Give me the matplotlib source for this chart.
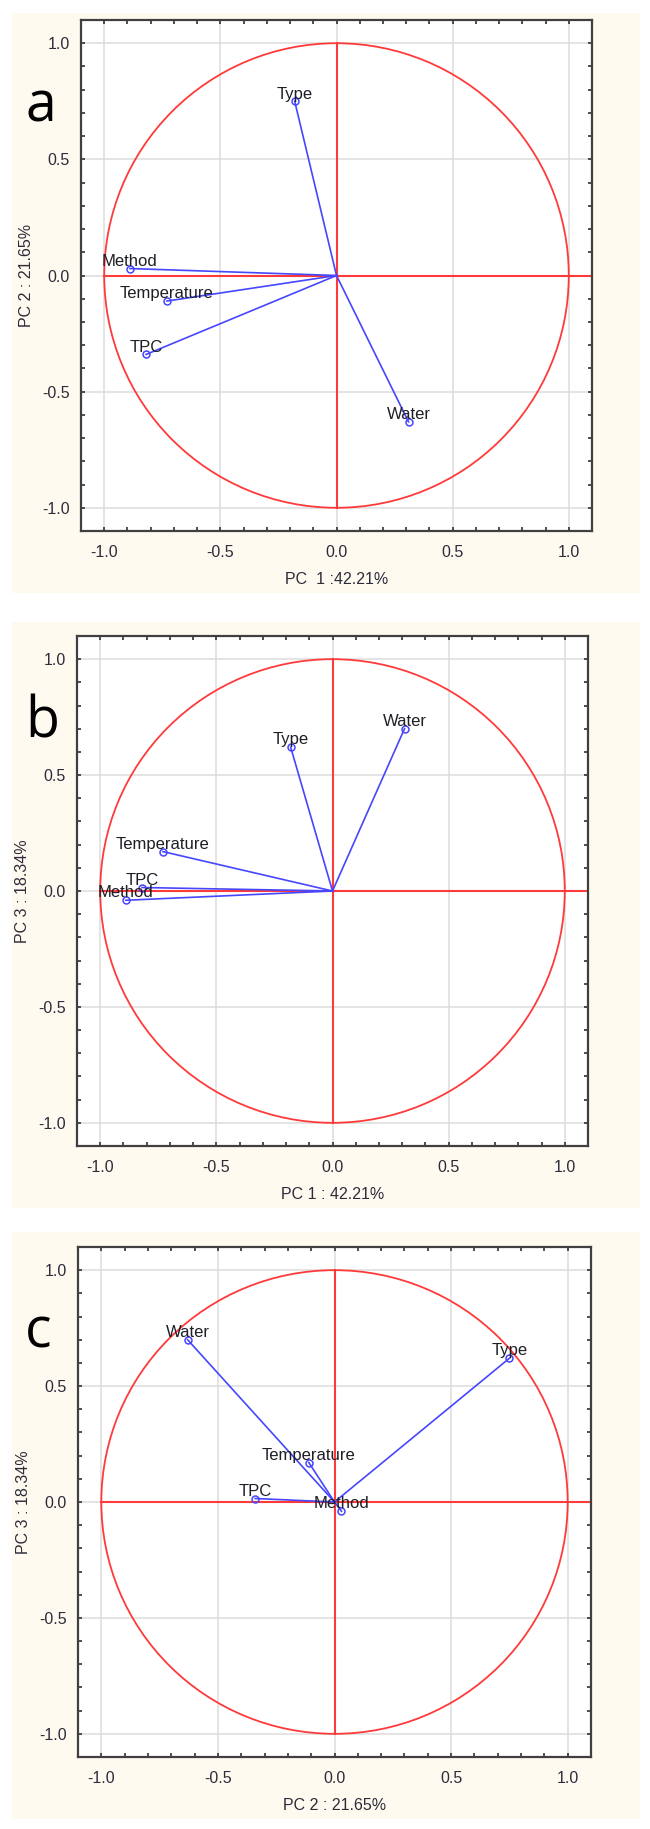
import matplotlib
matplotlib.use("Agg")
import matplotlib.pyplot as plt
from matplotlib.patches import Circle, Rectangle
from matplotlib.ticker import MultipleLocator, FormatStrFormatter

plt.rcParams['font.family'] = ['Liberation Sans', 'DejaVu Sans']
plt.rcParams['axes.unicode_minus'] = False

# loadings
variables = ['Method', 'Temperature', 'TPC', 'Water', 'Type']
pc1 = [-0.89, -0.73, -0.82, 0.31, -0.18]
pc2 = [0.03, -0.11, -0.34, -0.63, 0.75]
pc3 = [-0.04, 0.17, 0.015, 0.70, 0.62]

panels = [
    ('a', pc1, pc2, 'PC  1 :42.21%', 'PC 2 : 21.65%'),
    ('b', pc1, pc3, 'PC 1 : 42.21%', 'PC 3 : 18.34%'),
    ('c', pc2, pc3, 'PC 2 : 21.65%', 'PC 3 : 18.34%'),
]

W, H = 650, 1829
fig = plt.figure(figsize=(W / 100, H / 100), dpi=100)

# pixel boxes: cream background (x0, y0, x1, y1) and axes (left, top, right, bottom)
cream_boxes = [(12, 13, 640, 593), (12, 622, 640, 1208), (12, 1232, 640, 1819)]
ax_boxes = [(81, 20, 592, 531), (77, 636, 588, 1146), (78, 1247, 591, 1757)]

text_col = '#2c2c3a'
blue = '#4646ff'
red = '#ff3a3a'

for (letter, xs, ys, xlab, ylab), cb, ab in zip(panels, cream_boxes, ax_boxes):
    x0, y0, x1, y1 = cb
    fig.patches.append(Rectangle((x0 / W, 1 - y1 / H), (x1 - x0) / W, (y1 - y0) / H,
                                 transform=fig.transFigure, facecolor='#fffaf0',
                                 edgecolor='none', zorder=-10))
    l, t, r, b = ab
    ax = fig.add_axes([l / W, 1 - b / H, (r - l) / W, (b - t) / H])
    ax.set_zorder(1)
    ax.set_facecolor('white')
    ax.set_xlim(-1.1, 1.1)
    ax.set_ylim(-1.1, 1.1)

    ax.xaxis.set_major_locator(MultipleLocator(0.5))
    ax.yaxis.set_major_locator(MultipleLocator(0.5))
    ax.xaxis.set_minor_locator(MultipleLocator(0.1))
    ax.yaxis.set_minor_locator(MultipleLocator(0.1))
    ax.xaxis.set_major_formatter(FormatStrFormatter('%.1f'))
    ax.yaxis.set_major_formatter(FormatStrFormatter('%.1f'))
    ax.tick_params(which='both', direction='in', top=True, right=True,
                   color='#404040', width=1.3, length=3)
    ax.tick_params(which='major', labelsize=11.5, labelcolor=text_col)
    ax.tick_params(axis='x', which='major', pad=10)
    ax.tick_params(axis='y', which='major', pad=8)
    for s in ax.spines.values():
        s.set_color('#404040')
        s.set_linewidth(1.6)
    ax.grid(True, which='major', color='#dcdcdc', linewidth=1.1)
    ax.set_axisbelow(True)

    # unit circle and red axes
    ax.add_patch(Circle((0, 0), 1.0, fill=False, edgecolor=red, linewidth=1.3, zorder=2))
    ax.plot([-1.0, 1.1], [0, 0], color=red, linewidth=1.5, zorder=2)
    ax.plot([0, 0], [-1.0, 1.0], color=red, linewidth=1.5, zorder=2)

    for name, x, y in zip(variables, xs, ys):
        ax.plot([0, x], [0, y], color=blue, linewidth=1.2, zorder=3)
        ax.plot(x, y, marker='o', markersize=5, markerfacecolor='none',
                markeredgecolor=blue, markeredgewidth=1.1, zorder=4)
        ax.annotate(name, (x, y), xytext=(0, 2), textcoords='offset points',
                    ha='center', va='baseline', fontsize=12, color='#1e1e26', zorder=5)

    ax.set_xlabel(xlab, fontsize=11.5, color=text_col, labelpad=9)
    ax.set_ylabel(ylab, fontsize=11.5, color=text_col, labelpad=6)

    fig.text(25 / W, 1 - (t + 101) / H, letter, fontsize=40, family='Open Sans',
             color='black', ha='left', va='baseline', zorder=5)

fig.savefig('out.png', dpi=100, facecolor='white')
